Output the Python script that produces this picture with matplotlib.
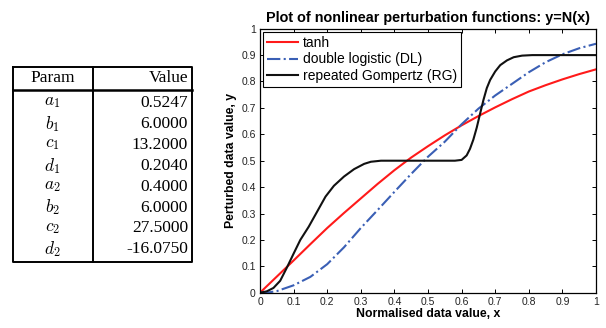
import matplotlib
matplotlib.use("Agg")
import matplotlib.pyplot as plt

plt.rcParams['font.family'] = ['Liberation Sans', 'DejaVu Sans']
plt.rcParams['mathtext.fontset'] = 'cm'

# table values
params = [r'$a_1$', r'$b_1$', r'$c_1$', r'$d_1$', r'$a_2$', r'$b_2$', r'$c_2$', r'$d_2$']
values = ['0.5247', '6.0000', '13.2000', '0.2040', '0.4000', '6.0000', '27.5000', '-16.0750']

# curves
tanh_x = [0, 0.05, 0.1, 0.15, 0.2, 0.25, 0.3, 0.35, 0.4, 0.45, 0.5, 0.55, 0.6, 0.65,
          0.7, 0.75, 0.8, 0.85, 0.9, 0.95, 1.0]
tanh_y = [0, 0.061, 0.122, 0.184, 0.245, 0.302, 0.357, 0.412, 0.464, 0.512, 0.555,
          0.596, 0.634, 0.669, 0.702, 0.733, 0.762, 0.786, 0.808, 0.828, 0.846]

dl_x = [0, 0.03, 0.05, 0.1, 0.15, 0.2, 0.25, 0.3, 0.35, 0.4, 0.45, 0.5, 0.55, 0.6, 0.65,
        0.7, 0.75, 0.8, 0.85, 0.9, 0.95, 1.0]
dl_y = [0, 0.002, 0.006, 0.028, 0.06, 0.108, 0.172, 0.245, 0.313, 0.382, 0.45, 0.515,
        0.572, 0.638, 0.697, 0.747, 0.791, 0.835, 0.873, 0.903, 0.926, 0.943]

rg_x = [0, 0.02, 0.04, 0.06, 0.08, 0.1, 0.12, 0.145, 0.17, 0.195, 0.22, 0.25, 0.28,
        0.31, 0.33, 0.36, 0.58, 0.6, 0.615, 0.625, 0.635, 0.645, 0.655, 0.665, 0.675,
        0.685, 0.7, 0.715, 0.735, 0.755, 0.78, 0.81, 1.0]
rg_y = [0, 0.005, 0.018, 0.045, 0.095, 0.148, 0.2, 0.25, 0.307, 0.364, 0.405, 0.44,
        0.468, 0.488, 0.496, 0.5, 0.5, 0.503, 0.52, 0.545, 0.58, 0.625, 0.678, 0.73,
        0.775, 0.806, 0.838, 0.862, 0.88, 0.892, 0.898, 0.9, 0.9]

W, H = 606, 328
fig = plt.figure(figsize=(W / 100, H / 100), dpi=100)

# --- parameter table, drawn in pixel space ---
tax = fig.add_axes([0, 0, 1, 1])
tax.set_xlim(0, W)
tax.set_ylim(H, 0)
tax.axis('off')
left, mid, right = 12.5, 92.5, 192
top, head, bottom = 67, 89.5, 262
tax.plot([left, right, right, left, left], [top, top, bottom, bottom, top], color='k', lw=1.4)
tax.plot([mid, mid], [top, bottom], color='k', lw=1.4)
tax.plot([left, right], [head, head], color='k', lw=1.8)
tax.text((left + mid) / 2, 78.5, 'Param', ha='center', va='center',
         fontsize=12.5, family='Liberation Serif')
tax.text(right - 4, 78.5, 'Value', ha='right', va='center',
         fontsize=12.5, family='Liberation Serif')
for i, (p, v) in enumerate(zip(params, values)):
    yy = 103 + i * 20.9
    tax.text((left + mid) / 2, yy, p, ha='center', va='center', fontsize=12.5)
    tax.text(right - 4, yy, v, ha='right', va='center',
             fontsize=12.5, family='Liberation Serif')

# --- line chart ---
ax = fig.add_axes([260 / W, 1 - 292.7 / H, 336 / W, 264 / H])
ax.plot(tanh_x, tanh_y, color='#ff1a1a', lw=1.5, label='tanh')
ax.plot(dl_x, dl_y, color='#3a5fb5', lw=1.5, ls='-.', label='double logistic (DL)')
ax.plot(rg_x, rg_y, color='#111111', lw=1.5, label='repeated Gompertz (RG)')

ax.set_xlim(0, 1)
ax.set_ylim(0, 1)
ticks = [0, 0.1, 0.2, 0.3, 0.4, 0.5, 0.6, 0.7, 0.8, 0.9, 1]
ticklabels = ['0', '0.1', '0.2', '0.3', '0.4', '0.5', '0.6', '0.7', '0.8', '0.9', '1']
ax.set_xticks(ticks)
ax.set_xticklabels(ticklabels)
ax.set_yticks(ticks)
ax.set_yticklabels(ticklabels)
ax.tick_params(direction='in', top=True, right=True, length=3, width=0.7,
               labelsize=7.5, labelcolor='#222222', pad=3)
for s in ax.spines.values():
    s.set_linewidth(0.9)

ax.set_title('Plot of nonlinear perturbation functions: y=N(x)',
             fontsize=10.4, fontweight='bold', pad=5)
ax.set_xlabel('Normalised data value, x', fontsize=8.8, fontweight='bold', labelpad=1)
ax.set_ylabel('Perturbed data value, y', fontsize=8.8, fontweight='bold', labelpad=3)

leg = ax.legend(loc='upper left', fontsize=10, handlelength=2.2, borderpad=0.25,
                labelspacing=0.2, handletextpad=0.4, borderaxespad=0.25,
                fancybox=False, framealpha=1)
leg.get_frame().set_edgecolor('black')
leg.get_frame().set_linewidth(0.8)

fig.savefig('out.png', dpi=100)
